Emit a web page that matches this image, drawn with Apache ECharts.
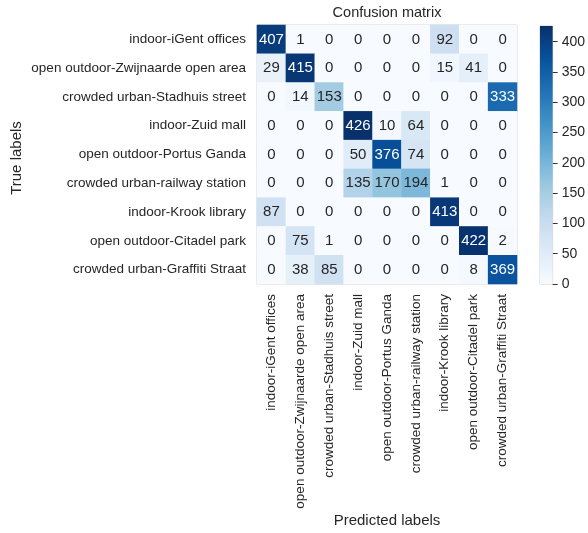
<!DOCTYPE html>
<html>
<head>
<meta charset="utf-8">
<script src="https://cdn.jsdelivr.net/npm/echarts@6/dist/echarts.min.js"></script>
<style>
  html, body { margin: 0; padding: 0; background: #fff; }
  #chart { width: 588px; height: 533px; }
</style>
</head>
<body>
<div id="chart"></div>
<script>
// Class names (rows = true labels, columns = predicted labels)
var classes = [
  'indoor-iGent offices',
  'open outdoor-Zwijnaarde open area',
  'crowded urban-Stadhuis street',
  'indoor-Zuid mall',
  'open outdoor-Portus Ganda',
  'crowded urban-railway station',
  'indoor-Krook library',
  'open outdoor-Citadel park',
  'crowded urban-Graffiti Straat'
];

// Confusion matrix counts, one row per true class
var row0 = [407, 1, 0, 0, 0, 0, 92, 0, 0];
var row1 = [29, 415, 0, 0, 0, 0, 15, 41, 0];
var row2 = [0, 14, 153, 0, 0, 0, 0, 0, 333];
var row3 = [0, 0, 0, 426, 10, 64, 0, 0, 0];
var row4 = [0, 0, 0, 50, 376, 74, 0, 0, 0];
var row5 = [0, 0, 0, 135, 170, 194, 1, 0, 0];
var row6 = [87, 0, 0, 0, 0, 0, 413, 0, 0];
var row7 = [0, 75, 1, 0, 0, 0, 0, 422, 2];
var row8 = [0, 38, 85, 0, 0, 0, 0, 8, 369];
var matrix = [row0, row1, row2, row3, row4, row5, row6, row7, row8];

// Colorbar tick values
var colorbarTicks = [0, 50, 100, 150, 200, 250, 300, 350, 400];

// Matplotlib "Blues" colormap stops
var blues = ['#f7fbff', '#deebf7', '#c6dbef', '#9ecae1', '#6baed6',
             '#4292c6', '#2171b5', '#08519c', '#08306b'];

var vmax = 0;
matrix.forEach(function (r) { r.forEach(function (v) { if (v > vmax) vmax = v; }); });
var threshold = vmax / 2;

var cells = [];
matrix.forEach(function (r, i) {
  r.forEach(function (v, j) {
    cells.push({
      value: [j, i, v],
      label: { color: v > threshold ? '#ffffff' : '#262626' }
    });
  });
});

var gradStops = blues.map(function (c, k) {
  return { offset: k / (blues.length - 1), color: c };
});

var textColor = '#262626';
var font = 'Liberation Sans, Arial, sans-serif';

var chart = echarts.init(document.getElementById('chart'), null, { renderer: 'canvas' });
chart.setOption({
  backgroundColor: '#ffffff',
  animation: false,
  textStyle: { fontFamily: font, color: textColor },
  grid: [
    { left: 257, top: 25, width: 260, height: 259, show: true,
      borderColor: '#d0d0d0', borderWidth: 1, backgroundColor: 'transparent' },
    { left: 540, top: 26, width: 13, height: 258, show: true,
      borderColor: '#d0d0d0', borderWidth: 1, backgroundColor: 'transparent' }
  ],
  xAxis: [
    { type: 'category', gridIndex: 0, data: classes, position: 'bottom',
      axisLine: { show: false }, axisTick: { show: false }, splitLine: { show: false },
      axisLabel: { rotate: 90, margin: 10, fontSize: 13.5, color: textColor, fontFamily: font, interval: 0 } },
    { type: 'category', gridIndex: 1, data: [''], show: false }
  ],
  yAxis: [
    { type: 'category', gridIndex: 0, data: classes, inverse: true,
      axisLine: { show: false }, axisTick: { show: false }, splitLine: { show: false },
      axisLabel: { margin: 11, fontSize: 13.5, color: textColor, fontFamily: font, interval: 0 } },
    { type: 'value', gridIndex: 1, min: 0, max: vmax, position: 'right',
      axisLine: { show: false }, splitLine: { show: false },
      axisTick: { show: true, length: 5, customValues: colorbarTicks,
                  lineStyle: { color: '#333', width: 1 } },
      axisLabel: { margin: 9, fontSize: 14, color: textColor, fontFamily: font,
                   customValues: colorbarTicks } }
  ],
  visualMap: {
    show: false, type: 'continuous', min: 0, max: vmax, dimension: 2,
    seriesIndex: 0, inRange: { color: blues }
  },
  graphic: [
    { type: 'text', style: { text: 'Confusion matrix', x: 387, y: 13,
      font: '14.5px ' + font, fill: textColor, align: 'center', verticalAlign: 'middle' } },
    { type: 'text', style: { text: 'Predicted labels', x: 387, y: 521,
      font: '15px ' + font, fill: textColor, align: 'center', verticalAlign: 'middle' } },
    { type: 'text', rotation: Math.PI / 2, x: 17, y: 158, style: { text: 'True labels',
      x: 0, y: 0, font: '15px ' + font, fill: textColor, align: 'center', verticalAlign: 'middle' } }
  ],
  series: [
    { type: 'heatmap', xAxisIndex: 0, yAxisIndex: 0, data: cells,
      label: { show: true, fontSize: 15, fontFamily: font,
               formatter: function (p) { return p.value[2]; } },
      itemStyle: { borderWidth: 0 },
      emphasis: { disabled: true } },
    { type: 'bar', xAxisIndex: 1, yAxisIndex: 1, data: [vmax], barWidth: '100%',
      silent: true,
      itemStyle: { color: new echarts.graphic.LinearGradient(0, 1, 0, 0, gradStops) } }
  ]
});
</script>
</body>
</html>
